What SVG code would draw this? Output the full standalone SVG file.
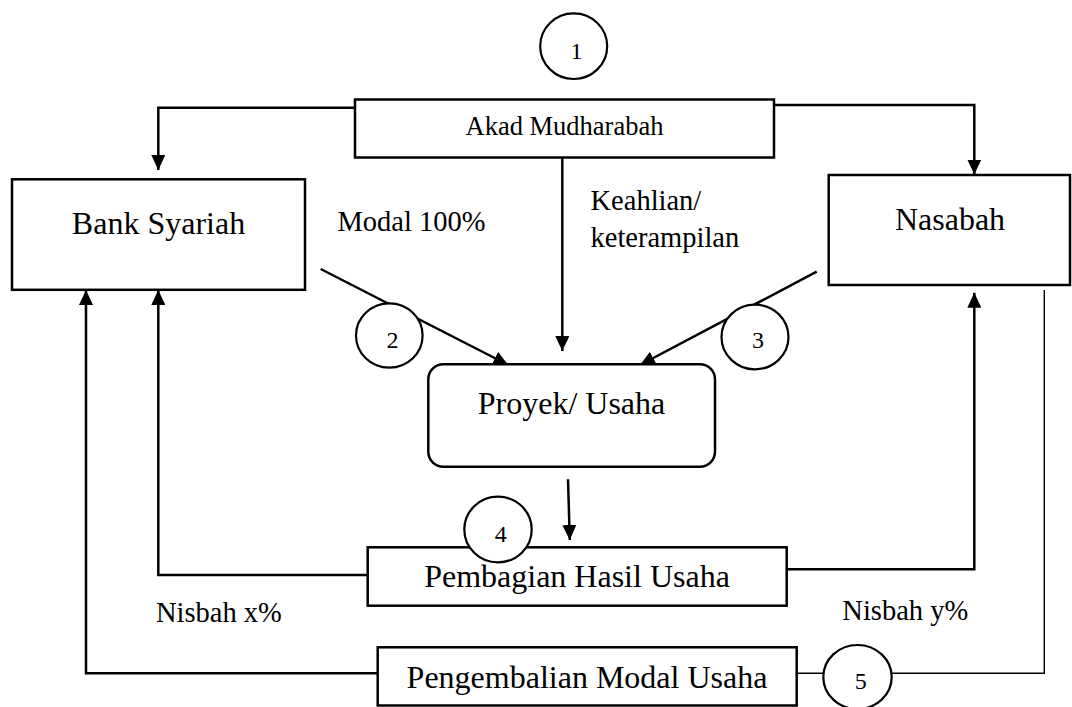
<svg xmlns="http://www.w3.org/2000/svg" width="1072" height="707" viewBox="0 0 1072 707">
<style>
.box{fill:#fff;stroke:#000;stroke-width:2.5}
.num{fill:#fff;stroke:#000;stroke-width:2.2}
.ln{fill:none;stroke:#000;stroke-width:2.5}
.thin{fill:none;stroke:#000;stroke-width:1.4}
text{font-family:"Liberation Serif","Times New Roman",serif;fill:#000}
.big{font-size:32px}
.mid{font-size:28.5px}
.akad{font-size:26.5px}
.n{font-size:24px;text-anchor:middle}
.c{text-anchor:middle}
</style>
<defs>
<marker id="ah" markerWidth="15" markerHeight="14" refX="15" refY="7" orient="auto" markerUnits="userSpaceOnUse">
<path d="M0,0 L15,7 L0,14 z" fill="#000"/>
</marker>
</defs>
<rect width="1072" height="707" fill="#fff"/>
<g id="connectors">
<path class="ln" d="M355,107.7 H158.3 V170" marker-end="url(#ah)"/>
<path class="ln" d="M774,105 H974.3 V174.5" marker-end="url(#ah)"/>
<path class="ln" d="M562.3,157.5 V351" marker-end="url(#ah)"/>
<path class="ln" d="M320.7,269 L508.3,365" marker-end="url(#ah)"/>
<path class="ln" d="M816.7,271.7 L640,365" marker-end="url(#ah)"/>
<path class="ln" d="M568,479.3 L569.8,540" marker-end="url(#ah)"/>
<path class="ln" d="M367.7,575 H158.3 V290" marker-end="url(#ah)"/>
<path class="ln" d="M378,673.3 H86 V290" marker-end="url(#ah)"/>
<path class="ln" d="M786.7,569.3 H974.3 V292.7" marker-end="url(#ah)"/>
<path class="thin" d="M796.7,673.3 H823.3 M891.7,673.3 H1044.3 V290"/>
</g>
<g id="akad">
<rect class="box" x="355" y="99.5" width="419" height="58"/>
<text class="akad c" x="564.5" y="135">Akad Mudharabah</text>
</g>
<g id="bank">
<rect class="box" x="12" y="179.3" width="293" height="110.5"/>
<text class="big c" x="158.5" y="234.3">Bank Syariah</text>
</g>
<g id="nasabah">
<rect class="box" x="828.7" y="175" width="241.3" height="110"/>
<text class="big c" x="950" y="230">Nasabah</text>
</g>
<g id="proyek">
<rect class="box" x="428.3" y="364.3" width="286.7" height="102.4" rx="15" ry="15"/>
<text class="big c" x="571.5" y="414.3">Proyek/ Usaha</text>
</g>
<g id="pembagian">
<rect class="box" x="367.7" y="547.3" width="419" height="58.4"/>
<text class="big c" x="577" y="586.7">Pembagian Hasil Usaha</text>
</g>
<g id="pengembalian">
<rect class="box" x="377.7" y="647.3" width="419" height="58.2"/>
<text class="big c" x="587" y="688.3">Pengembalian Modal Usaha</text>
</g>
<g id="labels">
<text class="mid" x="337.5" y="231">Modal 100%</text>
<text class="mid" x="590.5" y="210">Keahlian/</text>
<text class="mid" x="590.5" y="246.5">keterampilan</text>
<text class="mid" x="156" y="621.5">Nisbah x%</text>
<text class="mid" x="842.3" y="620">Nisbah y%</text>
</g>
<g id="step1">
<ellipse class="num" cx="573.7" cy="46.2" rx="33.5" ry="32.8"/>
<text class="n" x="576.5" y="59.3">1</text>
</g>
<g id="step2">
<ellipse class="num" cx="389.3" cy="335.5" rx="33.3" ry="32.2"/>
<text class="n" x="392.5" y="348.3">2</text>
</g>
<g id="step3">
<ellipse class="num" cx="755" cy="337" rx="33.5" ry="32.3"/>
<text class="n" x="758" y="348.3">3</text>
</g>
<g id="step4">
<ellipse class="num" cx="498" cy="529.5" rx="33.7" ry="32.8"/>
<text class="n" x="500.8" y="542.3">4</text>
</g>
<g id="step5">
<ellipse class="num" cx="857.5" cy="677" rx="34.2" ry="32"/>
<text class="n" x="860.7" y="689.3">5</text>
</g>
</svg>
